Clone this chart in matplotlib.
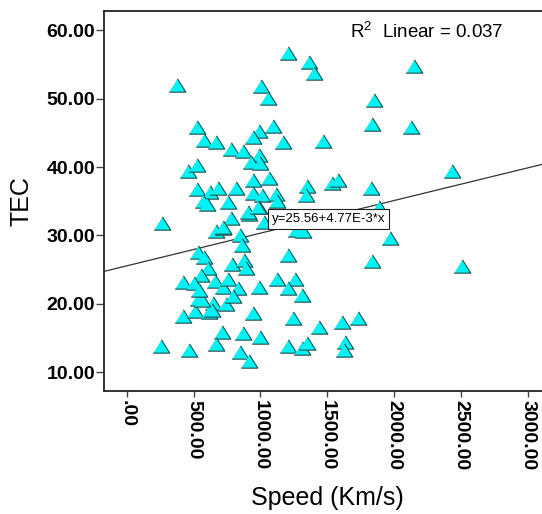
import matplotlib
matplotlib.use("Agg")
import matplotlib.pyplot as plt
import numpy as np

plt.rcParams['font.family'] = ['Liberation Sans', 'DejaVu Sans']
plt.rcParams['mathtext.fontset'] = 'custom'
plt.rcParams['mathtext.rm'] = 'Liberation Sans'

speed = [374, 1205, 1367, 1404, 2150, 1005, 1060, 1851, 524, 1097, 993, 1834, 2126,
         581, 668, 781, 868, 948, 1168, 1467, 993, 928, 998, 456, 524, 2433,
         524, 624, 686, 818, 948, 1067, 1347, 1534, 1584, 1829, 266, 573, 599,
         756, 948, 1015, 1117, 1127, 1342, 1891, 781, 918, 993, 1028, 668, 719,
         848, 861, 1267, 1317, 1971, 1210, 536, 579, 786, 880, 891, 611, 1834,
         2512, 556, 419, 504, 661, 719, 756, 831, 993, 1123, 1260, 1205, 1315,
         536, 649, 743, 798, 424, 511, 619, 948, 1242, 1439, 1614, 1734, 711,
         873, 998, 668, 257, 466, 848, 918, 1205, 1310, 1347, 1634, 1629, 1110,
         910, 723, 985, 561, 543, 636]
tec = [52.0, 56.7, 55.3, 53.7, 54.8, 51.9, 50.1, 49.8, 45.8, 46.0, 45.2, 46.3, 45.8,
       43.9, 43.6, 42.6, 42.4, 44.4, 43.6, 43.8, 41.8, 40.8, 40.6, 39.4, 40.3, 39.4,
       36.8, 36.4, 37.0, 36.9, 38.1, 38.4, 37.2, 37.6, 38.1, 37.0, 31.8, 35.1, 34.6,
       34.9, 36.2, 35.9, 36.1, 35.1, 35.9, 34.2, 32.6, 33.2, 34.1, 32.0, 30.6, 31.1,
       30.1, 28.6, 30.8, 30.6, 29.7, 27.2, 27.6, 26.8, 25.8, 26.4, 25.3, 25.2, 26.3,
       25.5, 24.2, 23.2, 23.0, 23.3, 22.4, 23.6, 22.3, 22.4, 23.6, 23.6, 22.3, 21.3,
       20.7, 20.2, 20.0, 21.1, 18.2, 18.9, 18.8, 18.6, 17.9, 16.6, 17.4, 18.0, 15.9,
       15.8, 15.2, 14.2, 13.8, 13.3, 12.9, 11.7, 13.9, 13.5, 14.3, 14.5, 13.2, 33.0,
       33.5, 31.3, 34.2, 20.6, 22.0, 19.1]

intercept = 25.56
slope = 4.77e-3
r2_text = "R$^{2}$  Linear = 0.037"
eq_text = "y=25.56+4.77E-3*x"

xticks = [0, 500, 1000, 1500, 2000, 2500, 3000]
xticklabels = [".00", "500.00", "1000.00", "1500.00", "2000.00", "2500.00", "3000.00"]
yticks = [10, 20, 30, 40, 50, 60]
yticklabels = ["10.00", "20.00", "30.00", "40.00", "50.00", "60.00"]

fig = plt.figure(figsize=(5.42, 5.14), dpi=100)
ax = fig.add_axes([104/542, 1-391/514, 446/542, 380/514])

xlim = (-170, 3168)
ylim = (7.27, 62.8)
ax.set_xlim(*xlim)
ax.set_ylim(*ylim)

xs = np.array(xlim)
ax.plot(xs, intercept + slope * xs, color='#333333', lw=0.9, zorder=2)

tri = [(-1, -0.8), (1, -0.8), (0, 0.8)]
ax.scatter(speed, tec, marker=tri, s=12.0**2, facecolor='#00F2F2',
           edgecolor='#2a4a4a', linewidths=0.8, zorder=3)

ax.text(1671, 59.75, r2_text, ha='left', va='center', fontsize=13.5, zorder=5)
ax.text(1510, 32.4, eq_text, ha='center', va='center', fontsize=9.5, zorder=5,
        bbox=dict(boxstyle='square,pad=0.3', facecolor='white', edgecolor='#222222', lw=0.8))

ax.set_xticks(xticks)
ax.set_xticklabels(xticklabels, rotation=270, fontsize=14, fontweight='bold')
ax.set_yticks(yticks)
ax.set_yticklabels(yticklabels, fontsize=14, fontweight='bold')
ax.tick_params(axis='x', direction='out', length=4.5, width=1, color='#444444', pad=2)
ax.tick_params(axis='y', direction='out', length=5.5, width=1, color='#444444', pad=1)

for s in ax.spines.values():
    s.set_linewidth(1.3)
    s.set_color('#222222')

ax.set_xlabel("Speed (Km/s)", fontsize=18, va='center')
ax.xaxis.set_label_coords(0.5, -0.2816)
ax.set_ylabel("TEC", fontsize=18, va='center')
ax.yaxis.set_label_coords(-0.1839, 0.5)

fig.savefig("out.png", dpi=100)
